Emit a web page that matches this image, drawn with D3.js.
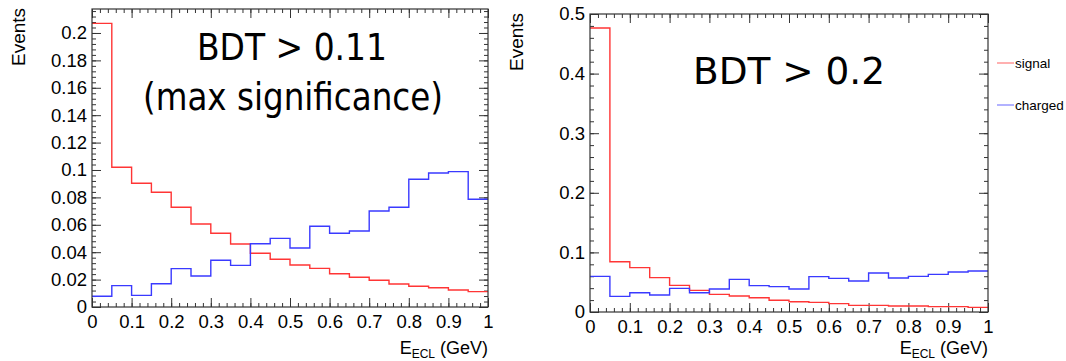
<!DOCTYPE html>
<html>
<head>
<meta charset="utf-8">
<script src="https://cdn.jsdelivr.net/npm/d3@7"></script>
<style>
  body { margin: 0; background: #fff; }
  svg { display: block; }
  .tick text { font-family: "Liberation Sans", Arial, sans-serif; fill: #000; }
</style>
</head>
<body>
<svg id="chart" width="1066" height="361"></svg>
<script>
// bin edges of E_ECL (GeV), 20 bins of 0.05
var binEdges = [0, 0.05, 0.1, 0.15, 0.2, 0.25, 0.3, 0.35, 0.4, 0.45, 0.5,
                0.55, 0.6, 0.65, 0.7, 0.75, 0.8, 0.85, 0.9, 0.95, 1];

// BDT > 0.11
var signal011 = [0.207, 0.102, 0.0903, 0.0837, 0.0728, 0.0606, 0.0538, 0.046, 0.0392, 0.0348,
                 0.0307, 0.0282, 0.0243, 0.0217, 0.0195, 0.0168, 0.0151, 0.0141, 0.0124, 0.0112];
var charged011 = [0.0078, 0.0156, 0.0085, 0.017, 0.028, 0.0226, 0.0341, 0.0304, 0.0462, 0.0501,
                  0.0431, 0.0589, 0.0538, 0.0555, 0.0701, 0.0728, 0.0932, 0.0978, 0.0988, 0.0786];

// BDT > 0.2
var signal02 = [0.4765, 0.0844, 0.0744, 0.0576, 0.0447, 0.0363, 0.0296, 0.0268, 0.024, 0.0196,
                0.0173, 0.0162, 0.014, 0.0112, 0.0112, 0.0101, 0.0101, 0.009, 0.009, 0.0078];
var charged02 = [0.0598, 0.0263, 0.0324, 0.0285, 0.0397, 0.0324, 0.0386, 0.0548, 0.0442, 0.0425,
                 0.0386, 0.0593, 0.0565, 0.052, 0.0654, 0.057, 0.0598, 0.0632, 0.0671, 0.0688];

var xTicks = [0, 0.1, 0.2, 0.3, 0.4, 0.5, 0.6, 0.7, 0.8, 0.9, 1];
var yTicksLeft = [0, 0.02, 0.04, 0.06, 0.08, 0.1, 0.12, 0.14, 0.16, 0.18, 0.2];
var yTicksRight = [0, 0.1, 0.2, 0.3, 0.4, 0.5];
var seriesNames = ["signal", "charged"];
var seriesColors = ["#ff3535", "#3a3aff"];

var svg = d3.select("#chart");
svg.append("rect").attr("width", 1066).attr("height", 361).attr("fill", "#fff");

function fmt(d) { return String(+d.toFixed(2)); }

function drawPanel(opts) {
  var x = d3.scaleLinear().domain([0, 1]).range([opts.left, opts.right]);
  var y = d3.scaleLinear().domain([0, opts.ymax]).range([opts.bottom, opts.top]);
  var g = svg.append("g");

  var xMinor = d3.range(0, 1.0001, 0.02);
  var yMinor = d3.range(0, opts.ymax, opts.yMinorStep);

  // minor ticks, all four sides
  g.append("g").attr("transform", "translate(0," + opts.bottom + ")")
    .call(d3.axisBottom(x).tickValues(xMinor).tickSize(-4).tickFormat(""));
  g.append("g").attr("transform", "translate(0," + opts.top + ")")
    .call(d3.axisTop(x).tickValues(xMinor).tickSize(-4).tickFormat(""));
  g.append("g").attr("transform", "translate(" + opts.left + ",0)")
    .call(d3.axisLeft(y).tickValues(yMinor).tickSize(-4).tickFormat(""));
  g.append("g").attr("transform", "translate(" + opts.right + ",0)")
    .call(d3.axisRight(y).tickValues(yMinor).tickSize(-4).tickFormat(""));

  // major ticks
  g.append("g").attr("class", "xaxis").attr("transform", "translate(0," + opts.bottom + ")")
    .call(d3.axisBottom(x).tickValues(xTicks).tickSize(-9).tickPadding(8).tickFormat(fmt));
  g.append("g").attr("transform", "translate(0," + opts.top + ")")
    .call(d3.axisTop(x).tickValues(xTicks).tickSize(-9).tickFormat(""));
  g.append("g").attr("class", "yaxis").attr("transform", "translate(" + opts.left + ",0)")
    .call(d3.axisLeft(y).tickValues(opts.yTicks).tickSize(-9).tickPadding(5).tickFormat(fmt));
  g.append("g").attr("transform", "translate(" + opts.right + ",0)")
    .call(d3.axisRight(y).tickValues(opts.yTicks).tickSize(-9).tickFormat(""));

  g.selectAll(".domain").remove();
  g.selectAll(".tick line").attr("stroke", "#333");
  g.selectAll(".tick text").attr("font-size", 18.5);

  // histograms
  var line = d3.line()
    .x(function (d) { return x(d[0]); })
    .y(function (d) { return y(d[1]); })
    .curve(d3.curveStepAfter);

  opts.series.forEach(function (vals, k) {
    var pts = vals.map(function (v, i) { return [binEdges[i], v]; });
    pts.push([binEdges[binEdges.length - 1], vals[vals.length - 1]]);
    g.append("path")
      .attr("d", line(pts))
      .attr("fill", "none")
      .attr("stroke", seriesColors[k])
      .attr("stroke-width", 1.4);
  });

  // frame
  g.append("rect")
    .attr("x", opts.left).attr("y", opts.top)
    .attr("width", opts.right - opts.left).attr("height", opts.bottom - opts.top)
    .attr("fill", "none").attr("stroke", "#333").attr("stroke-width", 1.2);

  // y title
  g.append("text")
    .attr("transform", "translate(" + opts.yTitleX + "," + opts.yTitleY + ") rotate(-90)")
    .attr("text-anchor", "middle")
    .attr("font-family", "Liberation Sans, Arial, sans-serif")
    .attr("font-size", 19)
    .text("Events");

  // x title
  var xt = g.append("text")
    .attr("x", opts.right).attr("y", opts.xTitleY)
    .attr("text-anchor", "end")
    .attr("font-family", "Liberation Sans, Arial, sans-serif")
    .attr("font-size", 18);
  xt.append("tspan").text("E");
  xt.append("tspan").attr("font-size", 12).attr("dy", 4).text("ECL");
  xt.append("tspan").attr("dy", -4).text(" (GeV)");

  // annotation
  opts.notes.forEach(function (n) {
    g.append("text")
      .attr("x", n.x).attr("y", n.y)
      .attr("font-family", "DejaVu Sans, sans-serif")
      .attr("font-size", 37)
      .attr("textLength", n.w)
      .attr("lengthAdjust", "spacingAndGlyphs")
      .text(n.text);
  });
}

drawPanel({
  left: 92, right: 488, top: 9, bottom: 307,
  ymax: 0.2175, yTicks: yTicksLeft, yMinorStep: 0.004,
  series: [signal011, charged011],
  yTitleX: 25, yTitleY: 37, xTitleY: 354,
  notes: [
    { text: "BDT > 0.11", x: 197, y: 60, w: 190 },
    { text: "(max significance)", x: 143, y: 110, w: 300 }
  ]
});

drawPanel({
  left: 590, right: 988, top: 14, bottom: 312,
  ymax: 0.5, yTicks: yTicksRight, yMinorStep: 0.02,
  series: [signal02, charged02],
  yTitleX: 523, yTitleY: 42, xTitleY: 354,
  notes: [
    { text: "BDT > 0.2", x: 693, y: 84, w: 192 }
  ]
});

// legend
var legend = svg.append("g");
var legendY = [63, 105];
seriesNames.forEach(function (name, k) {
  legend.append("line")
    .attr("x1", 997).attr("x2", 1014)
    .attr("y1", legendY[k]).attr("y2", legendY[k])
    .attr("stroke", seriesColors[k]).attr("stroke-opacity", 0.6).attr("stroke-width", 1.3);
  legend.append("text")
    .attr("x", 1015).attr("y", legendY[k]).attr("dy", "0.35em")
    .attr("font-family", "Liberation Sans, Arial, sans-serif")
    .attr("font-size", 13.5)
    .text(name);
});
</script>
</body>
</html>
